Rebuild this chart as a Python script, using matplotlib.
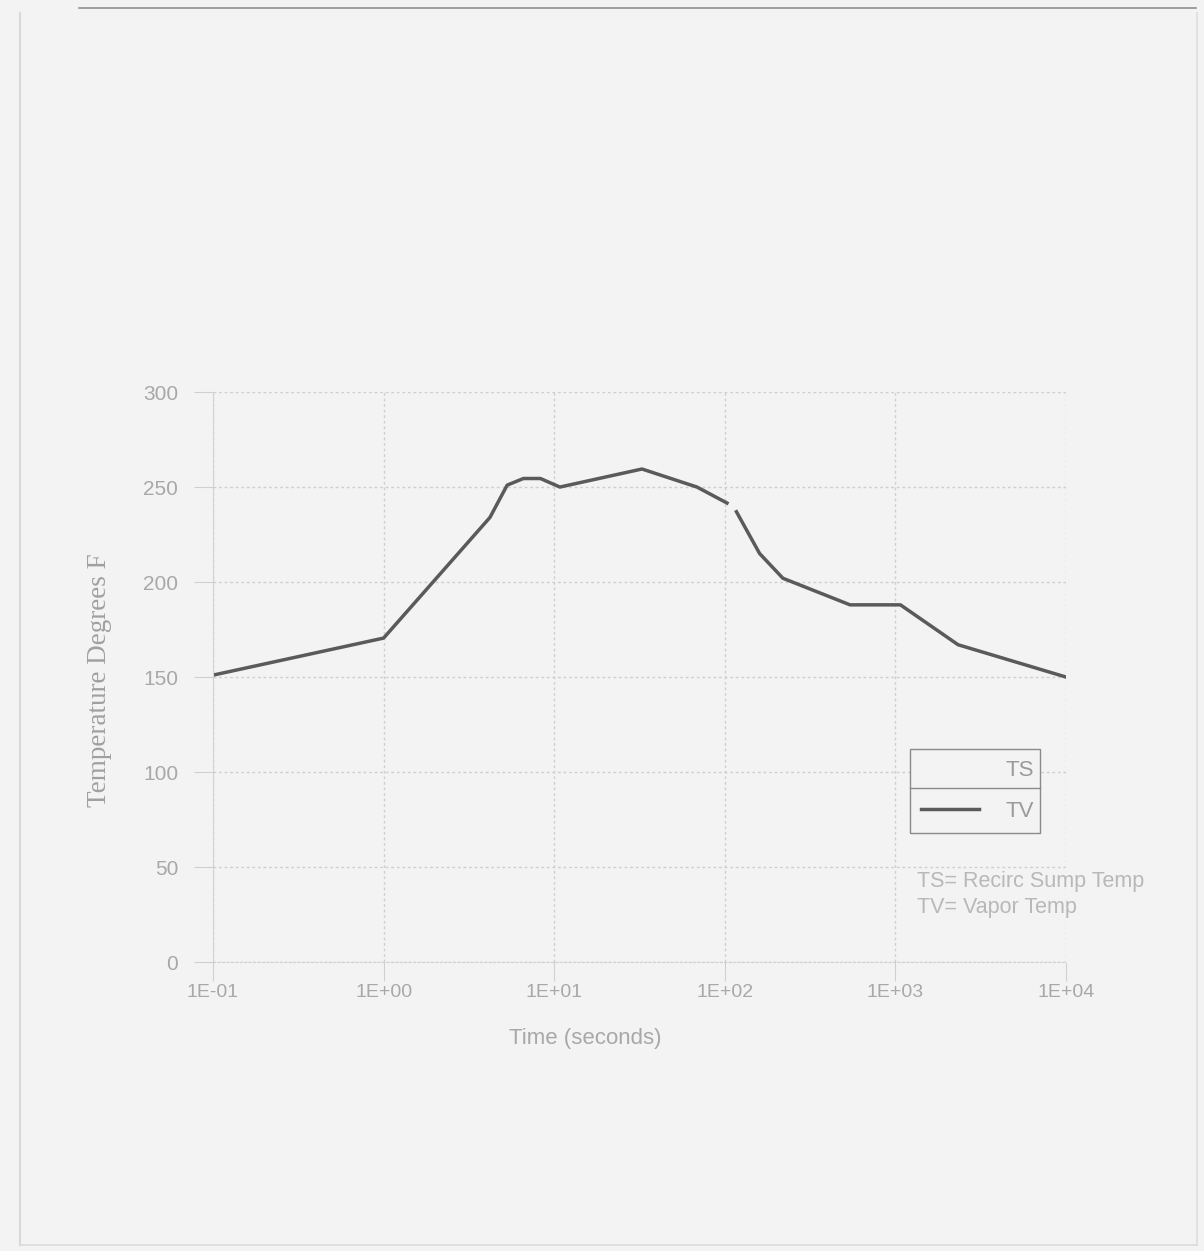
import numpy as np
import matplotlib
matplotlib.use("Agg")
import matplotlib.pyplot as plt
from matplotlib.lines import Line2D

# Containment temperature history (log time axis)
time_s = [0.1, 1.0, 4.2, 5.3, 6.6, 8.3, 10.8, 32.7, 68.7, 103, np.nan, 117, 160, 219, 542, 1070, 2330, 10000]
tv_degF = [151, 170.5, 234, 251, 254.5, 254.5, 250, 259.5, 250, 241.6, np.nan, 237, 215, 202, 188, 188, 167, 150]

x_ticks = [1e-1, 1e0, 1e1, 1e2, 1e3, 1e4]
x_tick_labels = ["1E-01", "1E+00", "1E+01", "1E+02", "1E+03", "1E+04"]
y_ticks = [0, 50, 100, 150, 200, 250, 300]
series_names = ["TS", "TV"]
notes = ["TS= Recirc Sump Temp", "TV= Vapor Temp"]

bg = "#f3f3f3"
text_gray = "#a8a8a8"
grid_gray = "#cfcfcf"
line_gray = "#5a5a5a"
sans = ["Liberation Sans Narrow", "Liberation Sans", "DejaVu Sans"]

fig = plt.figure(figsize=(12.04, 12.51), dpi=100, facecolor=bg)
ax = fig.add_axes([0.1769, 0.2310, 0.7085, 0.4556], facecolor=bg)

ax.set_xscale("log")
ax.set_xlim(1e-1, 1e4)
ax.set_ylim(0, 300)

ts_line, = ax.plot([], [], color=bg, lw=2.2, label=series_names[0])
tv_line, = ax.plot(time_s, tv_degF, color=line_gray, lw=2.5, label=series_names[1])

ax.set_xticks(x_ticks)
ax.set_xticklabels(x_tick_labels)
ax.set_yticks(y_ticks)
ax.minorticks_off()
ax.grid(True, which="major", color=grid_gray, lw=1.0, ls=(0, (2, 2)))
ax.tick_params(axis="both", colors=grid_gray, labelcolor=text_gray,
               length=14, width=0.8, direction="out")
ax.tick_params(axis="x", pad=2, labelsize=14)
ax.tick_params(axis="y", pad=11, labelsize=15)
for lab in ax.get_xticklabels() + ax.get_yticklabels():
    lab.set_family(sans)

for side in ["top", "right"]:
    ax.spines[side].set_visible(False)
ax.spines["left"].set_color("#d2d2d2")
ax.spines["bottom"].set_color(grid_gray)
ax.spines["bottom"].set_linestyle((0, (2, 2)))

ax.set_xlabel("Time (seconds)", fontsize=16, color=text_gray, family=sans)
ax.xaxis.set_label_coords(0.436, -0.115)
ax.set_ylabel("Temperature Degrees F", fontsize=19.5, color="#a0a0a0",
              family=["Liberation Serif", "DejaVu Serif"])
ax.yaxis.set_label_coords(-0.118, 0.495)

leg = ax.legend(handles=[ts_line, tv_line], loc="lower left",
                bbox_to_anchor=(0.817, 0.226, 0.1525, 0.158), mode="expand",
                borderaxespad=0, fancybox=False, framealpha=1, facecolor=bg,
                edgecolor="#8a8a8a", fontsize=16, handlelength=2.6,
                handletextpad=1.2, labelspacing=0.9, borderpad=0.5,
                markerfirst=True)
for t in leg.get_texts():
    t.set_color("#9a9a9a")
    t.set_family(sans)
    t.set_ha("right")
leg.get_frame().set_linewidth(1.0)
ax.add_line(Line2D([0.817, 0.9695], [0.305, 0.305], transform=ax.transAxes,
                   color="#8a8a8a", lw=1.0, clip_on=False, zorder=6))

ax.text(0.825, 0.141, notes[0], transform=ax.transAxes, fontsize=15.5,
        color="#b8b8b8", family=sans, va="center")
ax.text(0.825, 0.096, notes[1], transform=ax.transAxes, fontsize=15.5,
        color="#b8b8b8", family=sans, va="center")

# page border
fig.add_artist(Line2D([0.066, 0.993], [0.9936, 0.9936], color="#8f8f8f", lw=1.2))
fig.add_artist(Line2D([0.0166, 0.0166], [0.005, 0.99], color="#d8d8d8", lw=1.5))
fig.add_artist(Line2D([0.994, 0.994], [0.005, 0.99], color="#dedede", lw=1.2))
fig.add_artist(Line2D([0.0166, 0.994], [0.005, 0.005], color="#dcdcdc", lw=1.2))

fig.savefig("out.png", dpi=100, facecolor=bg)
